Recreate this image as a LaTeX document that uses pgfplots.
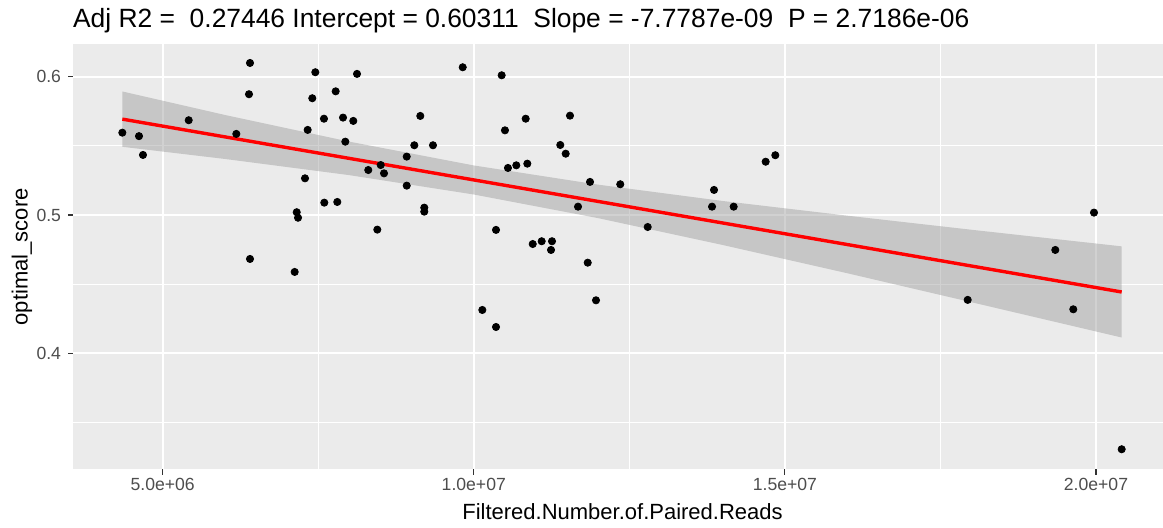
\documentclass[border=0pt]{standalone}
\usepackage{pgfplots}
\pgfplotsset{compat=1.18}
\usepackage{fontspec}
\setmainfont{Liberation Sans}
\definecolor{panelbg}{RGB}{235,235,235}
\definecolor{tickgrey}{RGB}{77,77,77}
\definecolor{tickmark}{RGB}{51,51,51}
\definecolor{bandgrey}{RGB}{153,153,153}
\begin{document}
\begin{tikzpicture}
\path[use as bounding box] (-36.65pt,-28.85pt) rectangle (544.85pt,234.65pt);
\begin{axis}[
  at={(0,0)}, anchor=south west,
  scale only axis, width=544.85pt, height=212.5pt,
  xmin=3563000, xmax=21077000, ymin=0.3161, ymax=0.6234,
  axis background/.style={fill=panelbg},
  axis line style={draw=none},
  xtick={5000000,10000000,15000000,20000000},
  xticklabels={5.0e+06,1.0e+07,1.5e+07,2.0e+07},
  minor xtick={7500000,12500000,17500000},
  ytick={0.4,0.5,0.6}, yticklabels={0.4,0.5,0.6},
  minor ytick={0.35,0.45,0.55},
  scaled x ticks=false, scaled y ticks=false,
  xtick pos=bottom, ytick pos=left,
  grid=both,
  major grid style={white, line width=1.1pt},
  minor grid style={white, line width=0.55pt},
  tick align=outside,
  major tick length=2.6pt,
  minor tick length=0pt,
  every tick/.style={tickmark, line width=0.6pt},
  xticklabel style={font=\fontsize{8.8}{10}\selectfont, text=tickgrey, anchor=base, yshift=-8pt},
  yticklabel style={font=\fontsize{8.8}{10}\selectfont, text=tickgrey, anchor=east, xshift=0pt},
  clip=true,
]
\addplot[only marks, mark=*, mark size=1.8pt, black] coordinates {
(4351000,0.5595) (4619000,0.5570) (4683000,0.5434) (5418000,0.5685)
(6183000,0.5586) (6403000,0.6099) (6387000,0.5873) (6403000,0.4682)
(7453000,0.6032) (7404000,0.5844) (7330000,0.5615) (7287000,0.5265)
(7154000,0.5020) (7175000,0.4980) (7121000,0.4588) (7592000,0.5696)
(7597000,0.5089) (7780000,0.5894) (7806000,0.5094) (7898000,0.5704)
(7935000,0.5530) (8063000,0.5680) (8123000,0.6020) (8304000,0.5325)
(8504000,0.5361) (8557000,0.5301) (8449000,0.4894) (8922000,0.5422)
(8922000,0.5212) (9140000,0.5716) (9044000,0.5504) (9344000,0.5504)
(9204000,0.5053) (9204000,0.5024) (9822000,0.6068) (10448000,0.6010)
(10834000,0.5696) (10501000,0.5612) (11546000,0.5718) (11390000,0.5506)
(11477000,0.5443) (10549000,0.5340) (10683000,0.5359) (10860000,0.5371)
(11868000,0.5239) (12354000,0.5222) (11675000,0.5060) (12795000,0.4913)
(13861000,0.5181) (13829000,0.5060) (14177000,0.5060) (14691000,0.5385)
(14846000,0.5432) (10357000,0.4892) (10947000,0.4790) (11091000,0.4810)
(11257000,0.4810) (11241000,0.4747) (11831000,0.4655) (10137000,0.4313)
(10357000,0.4190) (11964000,0.4383) (17938000,0.4386) (19346000,0.4747)
(19635000,0.4318) (19968000,0.5017) (20413000,0.3306)
};
\addplot[draw=none, fill=bandgrey, fill opacity=0.45] coordinates {
(4351000,0.5893) (6000000,0.5723) (8000000,0.5530) (10000000,0.5358)
(12000000,0.5219) (14000000,0.5101) (16000000,0.4995) (18000000,0.4893)
(20413000,0.4773)
(20413000,0.4114) (18000000,0.4369) (16000000,0.4579) (14000000,0.4783)
(12000000,0.4977) (10000000,0.5148) (8000000,0.5288) (6000000,0.5405)
(4351000,0.5493)
} -- cycle;
\addplot[red, line width=1.7pt] coordinates {(4351000,0.5693) (20413000,0.4443)};
\end{axis}
\node[anchor=base west, inner sep=0pt, font=\fontsize{13.2}{15}\selectfont] at (-0.3pt,8.3pt+212.5pt)
  {Adj R2 =\ \ 0.27446 Intercept = 0.60311\ \ Slope = -7.7787e-09\ \ P = 2.7186e-06};
\node[anchor=base, inner sep=0pt, font=\fontsize{11}{13}\selectfont] at (274.6pt,-24.85pt)
  {Filtered.Number.of.Paired.Reads};
\node[anchor=base, inner sep=0pt, rotate=90, font=\fontsize{11}{13}\selectfont] at (-22.8pt,106.25pt)
  {optimal\_score};
\end{tikzpicture}
\end{document}
